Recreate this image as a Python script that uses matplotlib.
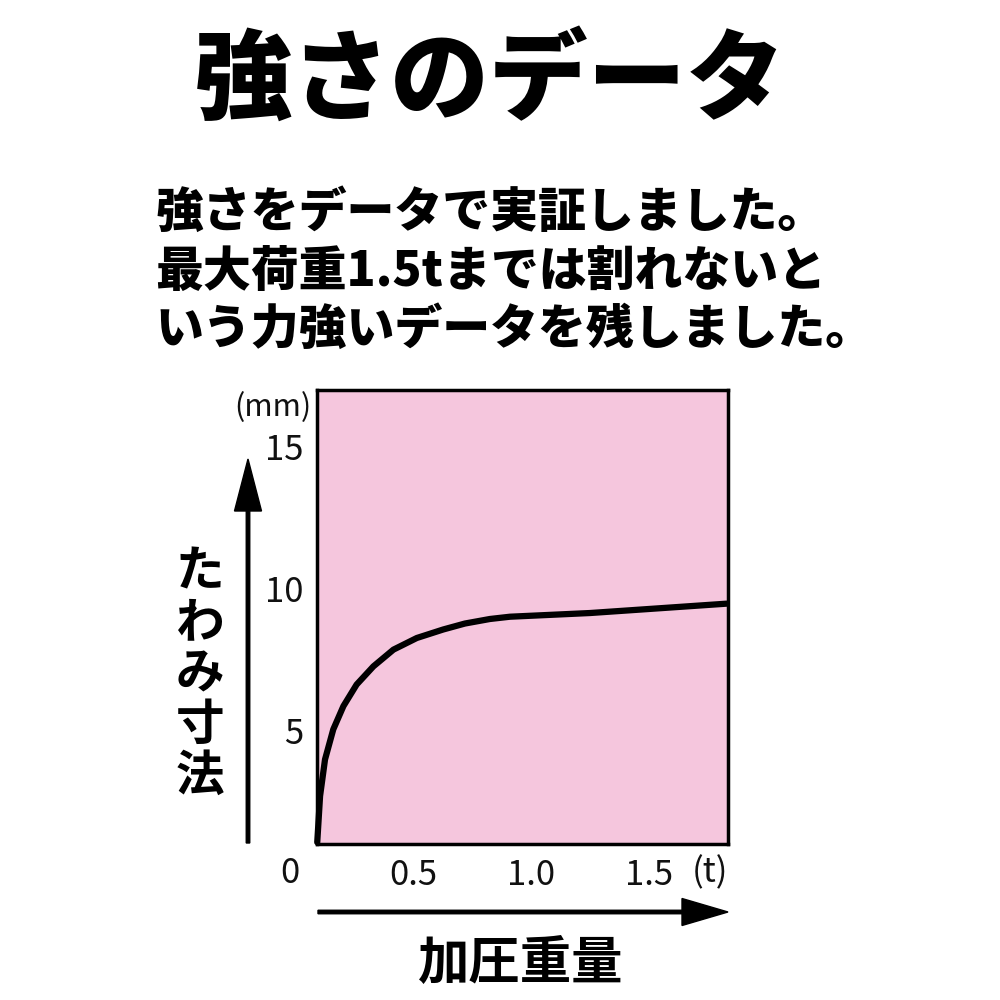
import matplotlib
matplotlib.use("Agg")
import matplotlib.pyplot as plt
from matplotlib.patches import FancyArrow
from matplotlib.transforms import blended_transform_factory

plt.rcParams['font.family'] = ['Noto Sans CJK JP', 'DejaVu Sans']

# Deflection (mm) against applied load (t)
load_t = [0.094, 0.106, 0.127, 0.162, 0.205, 0.261, 0.332, 0.417, 0.516,
          0.628, 0.720, 0.826, 0.911, 1.250, 1.829]
deflection_mm = [1.06, 2.69, 3.98, 5.04, 5.86, 6.62, 7.26, 7.85, 8.26,
                 8.56, 8.77, 8.93, 9.01, 9.14, 9.47]

x_ticks = [0.5, 1.0, 1.5]
x_tick_labels = ["0.5", "1.0", "1.5"]
y_ticks = [5, 10, 15]
y_tick_labels = ["5", "10", "15"]

title_text = "強さのデータ"
body_lines = [
    "強さをデータで実証しました。",
    "最大荷重1.5tまでは割れないと",
    "いう力強いデータを残しました。",
]
y_label = "たわみ寸法"
x_label = "加圧重量"

fig = plt.figure(figsize=(10, 10), dpi=100)
fig.patch.set_facecolor("white")

# Heading and description
fig.text(0.49, 0.918, title_text, ha="center", va="center",
         fontsize=71, fontweight="black", color="black")
for i, line in enumerate(body_lines):
    fig.text(0.155, 0.787 - i * 0.0585, line, ha="left", va="center",
             fontsize=34.5, fontweight="heavy", color="black")

# Plot area
ax = fig.add_axes([0.317, 0.156, 0.411, 0.454])
ax.set_facecolor("#F5C6DD")
ax.plot(load_t, deflection_mm, color="black", lw=4.5,
        solid_capstyle="round", solid_joinstyle="round", clip_on=False, zorder=3)
ax.set_xlim(0.093, 1.835)
ax.set_ylim(1.0, 17.0)
for s in ax.spines.values():
    s.set_linewidth(2.5)
    s.set_color("black")

ax.set_xticks(x_ticks)
ax.set_xticklabels(x_tick_labels)
ax.set_yticks(y_ticks)
ax.set_yticklabels(y_tick_labels)
ax.tick_params(axis="both", length=0, labelsize=25, colors="#111111")
ax.tick_params(axis="x", pad=10)
ax.tick_params(axis="y", pad=10)

# Origin label and load unit
xdata_yaxes = blended_transform_factory(ax.transData, ax.transAxes)
ax.text(-0.02, -0.064, "0", transform=xdata_yaxes,
        ha="center", va="center", fontsize=25, color="#111111", clip_on=False)
ax.text(1.76, -0.064, "(t)", transform=xdata_yaxes,
        ha="center", va="center", fontsize=25, color="#111111", clip_on=False)
fig.text(0.273, 0.592, "(mm)", ha="center", va="center", fontsize=22, color="#111111")

# Direction arrows
fig.patches.append(FancyArrow(0.248, 0.157, 0.0, 0.384, width=0.0035,
                              head_width=0.027, head_length=0.052,
                              length_includes_head=True, color="black",
                              transform=fig.transFigure, figure=fig))
fig.patches.append(FancyArrow(0.318, 0.088, 0.410, 0.0, width=0.0035,
                              head_width=0.027, head_length=0.046,
                              length_includes_head=True, color="black",
                              transform=fig.transFigure, figure=fig))

# Axis titles
for i, ch in enumerate(y_label):
    fig.text(0.200, 0.428 - i * 0.051, ch, ha="center", va="center",
             fontsize=35, fontweight="bold", color="black")
fig.text(0.521, 0.037, x_label, ha="center", va="center",
         fontsize=37, fontweight="bold", color="black")

fig.savefig("out.png", dpi=100, facecolor="white")
